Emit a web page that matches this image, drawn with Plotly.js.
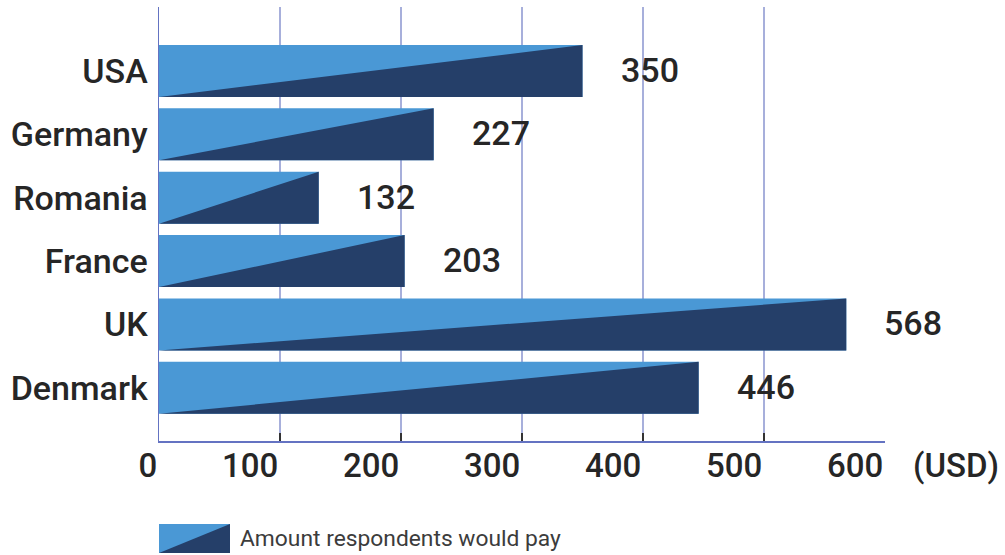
<!DOCTYPE html>
<html>
<head>
<meta charset="utf-8">
<script src="https://cdn.plot.ly/plotly-3.0.1.min.js"></script>
<style>html,body{margin:0;padding:0;background:#fff;}#chart{width:1005px;height:555px;}</style>
</head>
<body>
<div id="chart"></div>
<script>
// Data (top to bottom)
const countries = ["USA", "Germany", "Romania", "France", "UK", "Denmark"];
const amounts = [350, 227, 132, 203, 568, 446];
const xTicks = [0, 100, 200, 300, 400, 500, 600];
const unitLabel = "(USD)";
const seriesName = "Amount respondents would pay";

const LIGHT = "#4a98d5";
const DARK = "#253f69";
const n = countries.length;
const ypos = countries.map((c, i) => n - 1 - i);
const half = 0.41;

// dark lower-right triangles computed from data
const tx = [], ty = [];
amounts.forEach((v, i) => {
  const y = ypos[i];
  tx.push(0, v, v, 0, null);
  ty.push(y - half, y + half, y - half, y - half, null);
});

const traces = [
  {
    type: "bar", orientation: "h",
    x: amounts, y: ypos, width: half * 2,
    marker: {color: LIGHT, line: {width: 0}},
    hoverinfo: "skip", showlegend: false
  },
  {
    type: "scatter", mode: "lines",
    x: tx, y: ty, fill: "toself", fillcolor: DARK,
    line: {width: 0, color: DARK},
    hoverinfo: "skip", showlegend: false
  }
];

const TXT = {family: "Roboto", size: 34, color: "#262626", weight: 500};

const annotations = amounts.map((v, i) => ({
  x: v, y: ypos[i], xref: "x", yref: "y",
  text: String(v), showarrow: false,
  xanchor: "left", yanchor: "middle", xshift: 36, yshift: 1,
  font: TXT
}));
annotations.push({
  x: 1, y: 0, xref: "paper", yref: "paper",
  text: unitLabel, showarrow: false,
  xanchor: "left", yanchor: "middle", xshift: 26, yshift: -24,
  font: {family: "Roboto", size: 33, color: "#262626", weight: 500}
});
annotations.push({
  x: 0.1088, y: -0.2258, xref: "paper", yref: "paper",
  text: seriesName, showarrow: false,
  xanchor: "left", yanchor: "middle",
  font: {family: "Roboto", size: 22.8, color: "#3c3c3c"}
});

const shapes = [
  {type: "rect", xref: "paper", yref: "paper", x0: 0, x1: 0.0978, y0: -0.258, y1: -0.191,
   fillcolor: LIGHT, line: {width: 0}},
  {type: "path", xref: "paper", yref: "paper",
   path: "M 0,-0.258 L 0.0978,-0.191 L 0.0978,-0.258 Z",
   fillcolor: DARK, line: {width: 0}}
];

const layout = {
  width: 1005, height: 555,
  margin: {l: 159, r: 120, t: 7, b: 114},
  paper_bgcolor: "#ffffff", plot_bgcolor: "#ffffff",
  showlegend: false,
  font: {family: "Roboto", color: "#262626"},
  xaxis: {
    range: [0, 600], tickvals: xTicks, ticktext: xTicks.map(String),
    showgrid: true, gridcolor: "#a7afdb", gridwidth: 1.5,
    zeroline: false, showline: true, linecolor: "#6473c2", linewidth: 1.5,
    ticks: "inside", ticklen: 8, tickwidth: 2, tickcolor: "#333333",
    ticklabelposition: "outside left", ticklabelstandoff: -5,
    tickfont: {family: "Roboto", size: 33, color: "#262626", weight: 500},
    fixedrange: true
  },
  yaxis: {
    range: [-0.84, 6.01], tickvals: ypos, ticktext: countries,
    showgrid: false, zeroline: false,
    showline: true, linecolor: "#6473c2", linewidth: 1.5,
    ticks: "", ticklabelstandoff: 3,
    tickfont: {family: "Roboto", size: 34, color: "#262626", weight: 500},
    fixedrange: true
  },
  annotations: annotations,
  shapes: shapes
};

Plotly.newPlot("chart", traces, layout, {displayModeBar: false, staticPlot: true});
</script>
</body>
</html>
